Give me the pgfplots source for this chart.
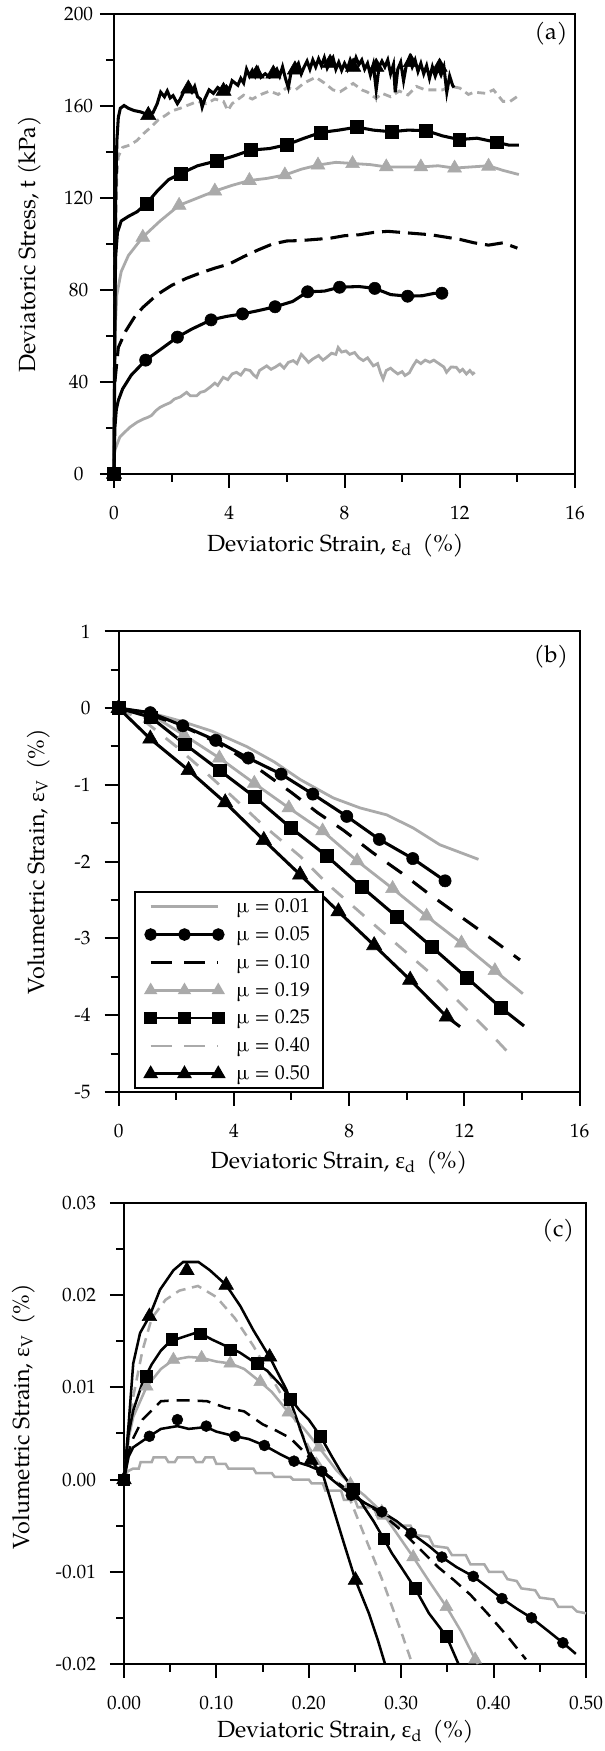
\documentclass[border=0pt]{standalone}
\usepackage{pgfplots}
\pgfplotsset{compat=1.18}
\usepackage{fontspec}
\setmainfont{TeX Gyre Pagella}
\newfontfamily\grk{Liberation Serif}
\definecolor{lgray}{RGB}{170,170,170}

\newcommand{\epsd}{{\grk ε}\textsubscript{d}}
\newcommand{\epsv}{{\grk ε}\textsubscript{V}}
\newcommand{\lblfont}{\fontsize{17.5}{21}\selectfont}

\pgfplotsset{
  panel/.style={
    scale only axis,
    axis line style={line width=1.5pt},
    tick align=outside, xtick pos=left, ytick pos=left,
    major tick length=10.5pt, minor tick length=6pt,
    every tick/.style={black, line width=1.5pt},
    minor x tick num=1, minor y tick num=1,
    tick label style={font=\fontsize{14.5}{17}\selectfont},
    /pgf/number format/assume math mode=true,
    scaled ticks=false,
    xticklabel shift=10pt,
    clip=false,
  },
  blk/.style={black, line width=2.3pt},
  gry/.style={lgray, line width=2.1pt},
  mcir/.style={only marks, mark=*, mark size=4.6pt, black},
  msq/.style={only marks, mark=square*, mark size=4.8pt, black},
  mtri/.style={only marks, mark=triangle*, mark size=6.6pt, black},
  mgtri/.style={only marks, mark=triangle*, mark size=6pt, lgray},
}

\begin{document}
\begin{tikzpicture}

% ---------------- (a) ----------------
\begin{axis}[panel, at={(85.5pt,957.75pt)}, anchor=south west,
  width=345.75pt, height=345pt,
  xmin=0, xmax=16, ymin=0, ymax=200,
  xtick={0,4,...,16}, ytick={0,40,...,200},
  yticklabel style={anchor=center}, yticklabel shift=16pt,
  xlabel={Deviatoric Strain, \epsd\hspace{0.45em}(\%)},
  ylabel={Deviatoric Stress, t (kPa)},
  every axis x label/.style={at={(axis description cs:0.48,-0.155)}, anchor=center, font=\lblfont},
  every axis y label/.style={at={(axis description cs:-0.184,0.5)}, rotate=90, anchor=center, font=\lblfont},
]
% mu = 0.01
\addplot[gry] coordinates {(0,8) (0.05,11) (0.2,16) (0.4,18.5) (0.55,20.3) (0.8,22.5) (1.02,23.9) (1.15,24.5) (1.3,25.4) (1.45,27.5) (1.6,29) (1.8,30.2) (1.95,31) (2.1,32.6) (2.3,33.5) (2.52,35.5) (2.65,34) (2.87,34) (3.0,35.5) (3.15,36) (3.33,37.7) (3.5,39.5) (3.6,38.5) (3.79,42) (3.95,41) (4.1,43.5) (4.25,44.2) (4.4,43) (4.55,45.5) (4.72,45) (4.85,43) (4.95,42) (5.05,45) (5.3,47) (5.45,45.5) (5.6,46.5) (5.76,47.8) (5.9,46) (6.05,48.5) (6.22,49.3) (6.35,48) (6.5,52) (6.65,50) (6.75,48.5) (6.9,50) (7.1,51.5) (7.25,49.5) (7.38,50.7) (7.55,52.5) (7.7,52) (7.78,55) (7.9,53) (8.05,53.5) (8.18,52) (8.35,52.8) (8.5,50.5) (8.65,49.3) (8.8,50.5) (9.0,47) (9.15,48) (9.25,44) (9.34,41.3) (9.45,45) (9.6,46) (9.69,45) (9.85,43.5) (10.0,44.5) (10.1,42.8) (10.25,44) (10.38,47) (10.5,49.3) (10.65,48) (10.8,49.5) (10.96,48.6) (11.1,49.5) (11.3,47.8) (11.45,46.5) (11.54,44.2) (11.7,46.5) (11.88,46.4) (12.0,44.5) (12.1,45.5) (12.23,43.5) (12.35,45) (12.45,43.5) (12.52,44.2)};
% mu = 0.19
\addplot[gry] coordinates {(0,0) (0.03,60) (0.1,78) (0.25,88) (0.5,95) (1.0,103) (1.6,110) (2.26,116.8) (2.9,120) (3.5,123) (4.1,125.5) (4.7,127.6) (5.3,128.5) (5.93,130) (6.5,132.5) (7.08,134.3) (7.7,135.5) (8.28,135) (8.9,134.5) (9.45,133.5) (10.05,133.5) (10.65,133.5) (11.25,134) (11.82,133) (12.4,133.5) (13.0,134) (13.5,132) (14.05,130.2)};
% mu = 0.40
\addplot[gry, dash pattern=on 6pt off 3.8pt] coordinates {(0,0) (0.05,100) (0.1,130) (0.15,138) (0.3,142) (0.55,143) (0.8,145) (1,147.7) (1.3,151) (1.53,153.9) (1.8,156) (2.0,157.8) (2.3,159) (2.6,160.5) (2.9,162) (3.2,161) (3.5,163) (3.8,162) (3.95,158) (4.1,161) (4.5,164.7) (4.8,163) (5.1,165) (5.4,166.5) (5.7,165) (6.0,168) (6.3,167) (6.6,170) (7.0,172.5) (7.3,170) (7.6,167) (7.85,166.2) (8.3,169.8) (8.6,167) (8.8,166) (9.1,163.3) (9.3,165.5) (9.6,164) (9.9,166.5) (10.2,164.8) (10.5,168.5) (10.8,167) (11.09,167) (11.4,167) (11.7,168.5) (12.0,167.8) (12.3,165) (12.5,166) (12.9,165.5) (13.17,167) (13.5,162) (13.75,162) (14.04,164.5)};
% mu = 0.10
\addplot[blk, dash pattern=on 13.5pt off 6pt] coordinates {(0.03,40) (0.15,55) (0.4,62) (0.7,68) (1,72.4) (1.5,78) (2,82) (2.5,85) (3,87.4) (3.5,89.5) (4,91.3) (4.5,94.5) (5,97.4) (5.5,100) (6,101.3) (6.5,101.5) (7,102) (7.5,102.5) (8,103.6) (8.5,104) (9,105) (9.5,105.5) (10,105) (10.5,104.5) (11,104) (11.5,103) (12,102) (12.5,100.5) (13,99.5) (13.5,100.5) (14,98.2)};
% mu = 0.05
\addplot[blk] coordinates {(0,0) (0.03,20) (0.08,28) (0.15,32) (0.3,37) (0.6,43) (1.1,49.5) (1.6,54) (2.2,59.5) (2.7,63) (3.37,67) (3.9,68.5) (4.46,69.6) (5,71) (5.59,72.7) (6.2,75) (6.72,79.2) (7.3,79.5) (7.83,81.2) (8.5,81.5) (9.05,80.7) (9.6,78) (10.19,77.3) (10.7,77.5) (11.1,78.5) (11.38,78.6)};
% mu = 0.25
\addplot[blk] coordinates {(0,0) (0.03,75) (0.06,95) (0.12,105) (0.25,110) (0.5,112) (0.8,114) (1.13,117.6) (1.5,123) (1.9,128) (2.33,130.7) (2.9,134) (3.56,136.1) (4.1,138) (4.75,140.8) (5.4,141.5) (5.99,143.1) (6.6,146) (7.19,148.5) (7.8,149.5) (8.43,150.8) (9.0,149.5) (9.63,148.8) (10.2,149.5) (10.83,149.3) (11.4,147) (11.98,145.4) (12.6,146) (13.28,144.2) (13.7,143) (14.05,143)};
% mu = 0.50
\addplot[blk] coordinates {(0,0) (0.03,60) (0.06,120) (0.1,145) (0.15,155) (0.22,159) (0.35,160.2) (0.5,159) (0.7,158) (0.9,157.5) (1.13,156.5) (1.35,157) (1.5,161) (1.62,166) (1.75,164) (1.85,166.5) (1.95,163.5) (2.05,164.5) (2.2,161) (2.3,163) (2.45,167) (2.57,168) (2.7,166) (2.8,168.5) (2.9,164) (3.0,163) (3.06,159.5) (3.15,163) (3.3,167) (3.45,165.5) (3.6,168) (3.77,166.5) (3.9,168.5) (4.0,167) (4.1,171) (4.2,170) (4.3,169) (4.4,172) (4.5,170) (4.6,176) (4.7,173) (4.8,175.5) (4.9,173) (5.0,176) (5.1,172.5) (5.25,174) (5.4,172.5) (5.53,174) (5.65,176) (5.75,173) (5.85,177) (5.95,172) (6.05,168) (6.15,175) (6.28,176) (6.4,178.5) (6.5,174) (6.6,177) (6.7,179.5) (6.8,176) (6.9,180) (7.0,177) (7.1,180.5) (7.2,177.5) (7.3,181) (7.4,176.5) (7.5,179) (7.6,181) (7.7,176) (7.8,179) (7.9,175.5) (8.0,178.5) (8.1,176) (8.2,180) (8.3,177) (8.4,181) (8.5,178) (8.6,180) (8.7,176) (8.8,178.5) (8.9,173.5) (9.0,178) (9.1,167) (9.2,177) (9.3,179.5) (9.4,177) (9.5,180) (9.6,174) (9.7,178) (9.76,166) (9.85,176) (9.95,179) (10.05,171) (10.15,178) (10.25,181) (10.35,177) (10.45,180) (10.55,175) (10.65,178.5) (10.75,174) (10.85,177.5) (10.95,172) (11.05,177) (11.15,173) (11.25,176.5) (11.35,173.5) (11.45,177) (11.55,166) (11.65,173) (11.75,169) (11.8,168)};
% markers
\addplot[mgtri] coordinates {(1.0,102.9) (2.26,116.8) (3.5,123) (4.7,127.6) (5.93,130) (7.08,134.3) (8.28,134.9) (9.45,133.5) (10.65,133.5) (11.82,133) (13.0,133.8)};
\addplot[mcir] coordinates {(1.1,49.5) (2.2,59.5) (3.37,67) (4.46,69.6) (5.59,72.7) (6.72,79.2) (7.83,81.2) (9.05,80.7) (10.19,77.3) (11.38,78.6)};
\addplot[msq] coordinates {(0,0) (1.13,117.6) (2.33,130.7) (3.56,136.1) (4.75,140.8) (5.99,143.1) (7.19,148.5) (8.43,150.8) (9.63,148.8) (10.83,149.3) (11.98,145.4) (13.28,144.2)};
\addplot[mtri] coordinates {(0,0) (1.19,156) (2.58,167.5) (3.8,166.5) (4.95,174) (5.53,174) (6.28,175.8) (7.5,178.7) (8.3,177) (9.1,177) (10.3,179) (11.3,177)};
\node[font=\fontsize{17.5}{20}\selectfont] at (rel axis cs:0.948,0.957) {(a)};
\end{axis}

% ---------------- (b) ----------------
\begin{axis}[panel, at={(88.95pt,494.25pt)}, anchor=south west,
  width=345.75pt, height=345.5pt,
  xmin=0, xmax=16, ymin=-5, ymax=1,
  xtick={0,4,...,16}, ytick={-5,-4,...,1},
  yticklabel shift=7pt,
  xlabel={Deviatoric Strain, \epsd\hspace{0.45em}(\%)},
  ylabel={Volumetric Strain, \epsv\hspace{0.45em}(\%)},
  every axis x label/.style={at={(axis description cs:0.478,-0.153)}, anchor=center, font=\lblfont},
  every axis y label/.style={at={(axis description cs:-0.174,0.5)}, rotate=90, anchor=center, font=\lblfont},
  legend style={at={(rel axis cs:0.0334,0.006)}, anchor=south west, draw=black,
    line width=1.4pt, font=\fontsize{15}{18}\selectfont,
    inner xsep=8pt, inner ysep=3pt, row sep=5pt},
  legend cell align=left,
  legend image code/.code={\path (-2pt,0pt) (61pt,0pt); \draw[#1] plot coordinates {(0pt,0pt) (25.35pt,0pt) (50.7pt,0pt)};},
]
\addplot[gry, forget plot] coordinates {(0,0) (1.1,-0.06) (2.17,-0.17) (3.24,-0.3) (4.44,-0.5) (5.4,-0.7) (6.3,-0.93) (7.45,-1.17) (8.38,-1.3) (9.3,-1.39) (10.22,-1.56) (11.15,-1.78) (12.49,-1.97)};
\addplot[gry, forget plot] coordinates {(0,0) (1.1,-0.08) (2.27,-0.35) (3.5,-0.65) (4.71,-0.98) (5.91,-1.3) (7.08,-1.6) (8.28,-1.99) (9.51,-2.35) (10.69,-2.71) (11.9,-3.06) (13.06,-3.42) (14.03,-3.72)};
\addplot[gry, dash pattern=on 11pt off 10pt, forget plot] coordinates {(0,0) (1,-0.2) (2,-0.5) (3,-0.83) (4,-1.17) (5,-1.52) (6.3,-1.93) (7.22,-2.28) (8.96,-2.85) (10.81,-3.45) (12.78,-4.19) (13.76,-4.58)};
\addplot[blk, dash pattern=on 13.5pt off 10pt, forget plot] coordinates {(0,0) (1,-0.08) (2,-0.2) (3,-0.37) (4,-0.58) (5,-0.83) (6,-1.1) (6.9,-1.36) (7.8,-1.59) (8.81,-1.88) (9.83,-2.15) (10.7,-2.4) (11.7,-2.67) (12.78,-2.96) (13.93,-3.28)};
\addplot[blk, forget plot] coordinates {(0,0) (1.1,-0.06) (2.23,-0.23) (3.37,-0.42) (4.5,-0.65) (5.64,-0.86) (6.74,-1.12) (7.92,-1.41) (9.05,-1.71) (10.21,-1.96) (11.33,-2.25)};
\addplot[blk, forget plot] coordinates {(0,0) (1.12,-0.12) (2.3,-0.47) (3.5,-0.81) (4.73,-1.16) (5.98,-1.56) (7.22,-1.925) (8.44,-2.33) (9.66,-2.72) (10.87,-3.11) (12.08,-3.51) (13.26,-3.9) (14.07,-4.14)};
\addplot[blk, forget plot] coordinates {(0,0) (1.1,-0.4) (2.43,-0.81) (3.7,-1.23) (5.04,-1.72) (6.3,-2.17) (7.63,-2.65) (8.87,-3.09) (10.12,-3.54) (11.39,-4.02) (11.85,-4.15)};
\addplot[mgtri, forget plot] coordinates {(1.1,-0.08) (2.27,-0.35) (3.5,-0.65) (4.71,-0.98) (5.91,-1.3) (7.08,-1.6) (8.28,-1.99) (9.51,-2.35) (10.69,-2.71) (11.9,-3.06) (13.06,-3.42)};
\addplot[mcir, forget plot] coordinates {(1.1,-0.06) (2.23,-0.23) (3.37,-0.42) (4.5,-0.65) (5.64,-0.86) (6.74,-1.12) (7.92,-1.41) (9.05,-1.71) (10.21,-1.96) (11.33,-2.25)};
\addplot[msq, forget plot] coordinates {(0,0) (1.12,-0.12) (2.3,-0.47) (3.5,-0.81) (4.73,-1.16) (5.98,-1.56) (7.22,-1.925) (8.44,-2.33) (9.66,-2.72) (10.87,-3.11) (12.08,-3.51) (13.26,-3.9)};
\addplot[mtri, forget plot] coordinates {(0,0) (1.1,-0.4) (2.43,-0.81) (3.7,-1.23) (5.04,-1.72) (6.3,-2.17) (7.63,-2.65) (8.87,-3.09) (10.12,-3.54) (11.39,-4.02)};
\addlegendimage{lgray, line width=2pt}
\addlegendentry{µ = 0.01}
\addlegendimage{black, line width=2pt, mark=*, mark size=3.7pt}
\addlegendentry{µ = 0.05}
\addlegendimage{black, line width=2pt, dash pattern=on 16pt off 9pt}
\addlegendentry{µ = 0.10}
\addlegendimage{lgray, line width=2pt, mark=triangle*, mark size=3.8pt}
\addlegendentry{µ = 0.19}
\addlegendimage{black, line width=2pt, mark=square*, mark size=3.7pt}
\addlegendentry{µ = 0.25}
\addlegendimage{lgray, line width=2pt, dash pattern=on 16pt off 9pt}
\addlegendentry{µ = 0.40}
\addlegendimage{black, line width=2pt, mark=triangle*, mark size=4.4pt}
\addlegendentry{µ = 0.50}
\node[font=\fontsize{17.5}{20}\selectfont] at (rel axis cs:0.938,0.946) {(b)};
\end{axis}

% ---------------- (c) ----------------
\begin{axis}[panel, at={(93pt,65.25pt)}, anchor=south west,
  width=346.5pt, height=345.75pt,
  xmin=0, xmax=0.5, ymin=-0.02, ymax=0.03,
  xtick={0,0.1,...,0.5}, ytick={-0.02,-0.01,...,0.03},
  /pgf/number format/fixed, /pgf/number format/fixed zerofill,
  /pgf/number format/precision=2,
  yticklabel shift=7pt,
  xlabel={Deviatoric Strain, \epsd\hspace{0.45em}(\%)},
  ylabel={Volumetric Strain, \epsv\hspace{0.45em}(\%)},
  every axis x label/.style={at={(axis description cs:0.479,-0.146)}, anchor=center, font=\lblfont},
  every axis y label/.style={at={(axis description cs:-0.218,0.537)}, rotate=90, anchor=center, font=\lblfont},
  blk/.style={black, line width=1.9pt},
  gry/.style={lgray, line width=1.9pt},
  mcir/.style={only marks, mark=*, mark size=4.1pt, black},
  msq/.style={only marks, mark=square*, mark size=4.3pt, black},
  mtri/.style={only marks, mark=triangle*, mark size=6.3pt, black},
  mgtri/.style={only marks, mark=triangle*, mark size=5.6pt, lgray},
]
% mu = 0.01
\addplot[gry] coordinates {(0,0) (0.004,0.0009) (0.01,0.0012) (0.016,0.0012) (0.018,0.0019) (0.03,0.0019) (0.032,0.0024) (0.045,0.0024) (0.048,0.0019) (0.055,0.0019) (0.058,0.0024) (0.075,0.0024) (0.078,0.0019) (0.085,0.0019) (0.088,0.0024) (0.097,0.0024) (0.1,0.0017) (0.11,0.0017) (0.113,0.0012) (0.14,0.0012) (0.143,0.0007) (0.16,0.0007) (0.163,0.0003) (0.18,0.0003) (0.183,0.0) (0.2,0.0) (0.203,-0.0004) (0.215,-0.0004) (0.218,-0.0012) (0.235,-0.0012) (0.238,-0.0022) (0.25,-0.0022) (0.253,-0.003) (0.27,-0.003) (0.275,-0.0042) (0.29,-0.0042) (0.295,-0.005) (0.31,-0.005) (0.315,-0.006) (0.33,-0.0062) (0.335,-0.0072) (0.35,-0.0074) (0.355,-0.0082) (0.37,-0.0082) (0.375,-0.0092) (0.39,-0.0092) (0.395,-0.01) (0.41,-0.01) (0.415,-0.0108) (0.425,-0.011) (0.43,-0.0118) (0.445,-0.012) (0.45,-0.0128) (0.465,-0.013) (0.47,-0.0138) (0.485,-0.0138) (0.49,-0.0143) (0.5,-0.0145)};
% mu = 0.19
\addplot[gry] coordinates {(0,0) (0.005,0.0045) (0.01,0.0068) (0.0246,0.0101) (0.04,0.012) (0.0535,0.013) (0.07,0.0133) (0.084,0.0132) (0.1,0.0128) (0.115,0.0126) (0.13,0.012) (0.1475,0.0106) (0.16,0.0095) (0.178,0.0073) (0.195,0.0055) (0.211,0.0035) (0.23,0.001) (0.245,-0.0005) (0.26,-0.0017) (0.279,-0.0035) (0.295,-0.0058) (0.313,-0.0084) (0.33,-0.011) (0.349,-0.0138) (0.365,-0.0165) (0.38,-0.0195) (0.383,-0.02)};
% mu = 0.40
\addplot[gry, dash pattern=on 7.5pt off 5pt] coordinates {(0,0) (0.01,0.009) (0.02,0.014) (0.03,0.0175) (0.045,0.0195) (0.06,0.0205) (0.08,0.021) (0.1,0.0198) (0.12,0.0175) (0.14,0.0145) (0.16,0.011) (0.18,0.0075) (0.2,0.0035) (0.22,0.0005) (0.24,-0.001) (0.26,-0.006) (0.28,-0.011) (0.3,-0.0165) (0.312,-0.02)};
% mu = 0.10
\addplot[blk, dash pattern=on 9.75pt off 6pt] coordinates {(0,0) (0.005,0.003) (0.01,0.0045) (0.02,0.0065) (0.03,0.0075) (0.04,0.0085) (0.055,0.0086) (0.07,0.0086) (0.09,0.0085) (0.11,0.0078) (0.13,0.0074) (0.15,0.006) (0.165,0.0053) (0.18,0.0045) (0.2,0.0025) (0.22,0.0005) (0.24,-0.001) (0.26,-0.0025) (0.28,-0.0038) (0.3,-0.0055) (0.32,-0.0075) (0.34,-0.0095) (0.357,-0.0109) (0.375,-0.0125) (0.395,-0.0147) (0.415,-0.017) (0.435,-0.0195)};
% mu = 0.05
\addplot[blk] coordinates {(0,0) (0.005,0.0025) (0.01,0.0035) (0.0275,0.0047) (0.04,0.0055) (0.0578,0.0058) (0.07,0.0055) (0.089,0.0057) (0.1,0.0052) (0.12,0.0047) (0.135,0.0044) (0.152,0.0037) (0.17,0.0027) (0.184,0.002) (0.2,0.0015) (0.214,0.0009) (0.23,-0.0004) (0.246,-0.0017) (0.26,-0.0025) (0.279,-0.0035) (0.295,-0.0045) (0.311,-0.0058) (0.33,-0.0072) (0.344,-0.0084) (0.36,-0.0095) (0.378,-0.0105) (0.395,-0.0118) (0.409,-0.0129) (0.425,-0.014) (0.441,-0.015) (0.46,-0.0165) (0.475,-0.0177) (0.489,-0.0189)};
% mu = 0.25
\addplot[blk] coordinates {(0,0) (0.005,0.005) (0.01,0.0075) (0.02,0.0105) (0.03,0.0125) (0.04,0.014) (0.05,0.015) (0.065,0.0155) (0.08,0.016) (0.095,0.0152) (0.11,0.0145) (0.125,0.0138) (0.14,0.0128) (0.155,0.0118) (0.17,0.0102) (0.18,0.0088) (0.19,0.0075) (0.2,0.0065) (0.2126,0.0047) (0.225,0.0025) (0.235,0.0008) (0.248,-0.001) (0.26,-0.003) (0.27,-0.0045) (0.281,-0.0064) (0.29,-0.008) (0.3,-0.0095) (0.315,-0.0118) (0.33,-0.0145) (0.349,-0.017) (0.362,-0.02)};
% mu = 0.50
\addplot[blk] coordinates {(0,0) (0.005,0.006) (0.01,0.0126) (0.0174,0.0159) (0.0275,0.0177) (0.039,0.0206) (0.0535,0.0227) (0.064,0.0236) (0.0806,0.0236) (0.093,0.0227) (0.1106,0.0211) (0.126,0.0188) (0.14,0.0162) (0.1576,0.0133) (0.176,0.0097) (0.191,0.0054) (0.2025,0.0021) (0.216,0.0003) (0.227,-0.0033) (0.238,-0.0069) (0.2505,-0.0109) (0.265,-0.0145) (0.275,-0.0175) (0.2825,-0.02)};
% markers
\addplot[mgtri] coordinates {(0.0246,0.0101) (0.0535,0.013) (0.084,0.0132) (0.115,0.0126) (0.1475,0.0106) (0.178,0.0073) (0.211,0.0035) (0.245,-0.0005) (0.279,-0.0035) (0.313,-0.0084) (0.349,-0.0138) (0.38,-0.0195)};
\addplot[mcir] coordinates {(0.0275,0.0047) (0.0578,0.0065) (0.089,0.0058) (0.12,0.0047) (0.152,0.0037) (0.184,0.002) (0.214,0.0009) (0.246,-0.0017) (0.279,-0.0035) (0.311,-0.0058) (0.344,-0.0084) (0.378,-0.0105) (0.409,-0.0129) (0.441,-0.015) (0.475,-0.0177)};
\addplot[msq] coordinates {(0,0) (0.0239,0.0112) (0.0517,0.0152) (0.0824,0.0158) (0.115,0.0141) (0.144,0.0126) (0.18,0.0087) (0.2126,0.0047) (0.248,-0.001) (0.281,-0.0064) (0.315,-0.0118) (0.349,-0.017)};
\addplot[mtri] coordinates {(0,0) (0.0275,0.0177) (0.068,0.0227) (0.1106,0.0211) (0.1576,0.0133) (0.2025,0.0021) (0.2505,-0.0109)};
\node[font=\fontsize{17.5}{20}\selectfont] at (rel axis cs:0.94,0.94) {(c)};
\end{axis}

\pgfresetboundingbox
\useasboundingbox (0,0) rectangle (453pt,1313.25pt);
\end{tikzpicture}
\end{document}
